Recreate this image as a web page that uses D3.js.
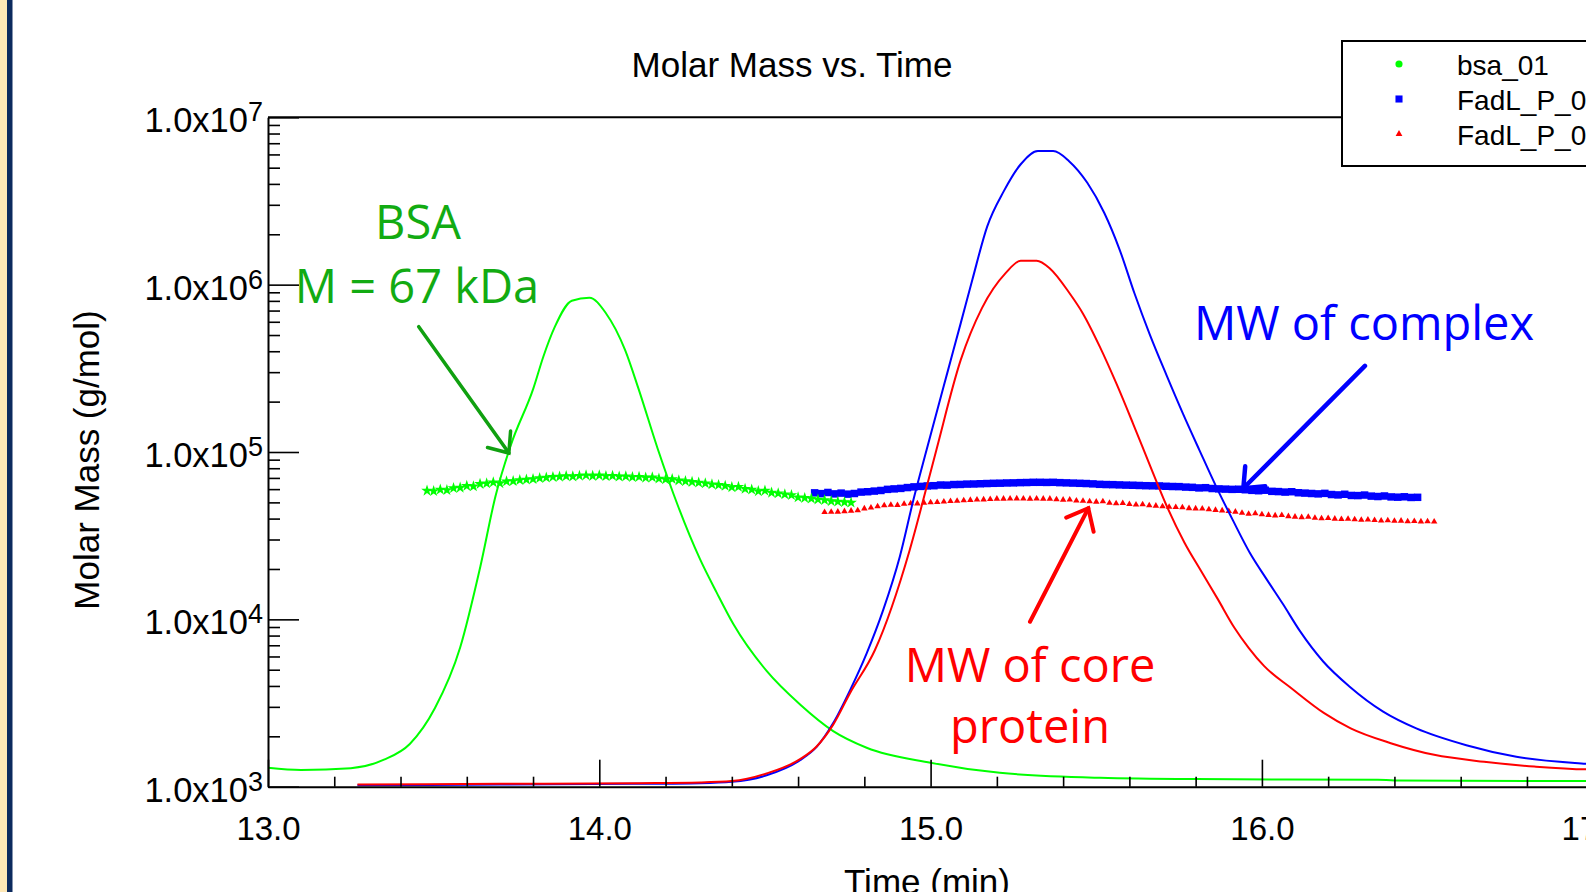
<!DOCTYPE html>
<html>
<head>
<meta charset="utf-8">
<script src="https://cdn.jsdelivr.net/npm/d3@7"></script>
<style>
body { margin: 0; background: #fff; overflow: hidden; }
svg { display: block; font-family: "Liberation Sans", Arial, sans-serif; }
</style>
</head>
<body>
<div id="chart"></div>
<script>
// ---- values ----
var seriesNames = ["bsa_01", "FadL_P_01", "FadL_P_02"];
var seriesColors = ["#00ff00", "#0000ff", "#ff0000"];

var timeTicks = [13, 14, 15, 16, 17];
var massTicks = [1e3, 1e4, 1e5, 1e6, 1e7];
var massTickExp = ["3", "4", "5", "6", "7"];

// detector traces (time in min, plotted on the molar mass axis)
var bsaTraceTime = [13.00, 13.10, 13.25, 13.35, 13.428, 13.504, 13.58, 13.641, 13.687, 13.733, 13.801, 13.831, 13.866, 13.917, 13.97, 14.02, 14.078, 14.118, 14.176, 14.237, 14.304, 14.354, 14.405, 14.505, 14.606, 14.706, 14.807, 15.0, 15.209, 15.511, 15.80, 16.35, 16.40, 17.0];
var bsaTraceValue = [1300, 1260, 1290, 1450, 1800, 2950, 6790, 20700, 54800, 110000, 240000, 371000, 561000, 802000, 836000, 675000, 406000, 240000, 105000, 47900, 22900, 14500, 9350, 4920, 3100, 2150, 1710, 1390, 1210, 1130, 1110, 1100, 1090, 1080];

var fadl1TraceTime = [13.27, 13.70, 14.10, 14.304, 14.40, 14.505, 14.606, 14.656, 14.706, 14.757, 14.807, 14.857, 14.907, 14.948, 14.988, 15.05, 15.091, 15.126, 15.171, 15.221, 15.272, 15.324, 15.37, 15.418, 15.473, 15.524, 15.571, 15.615, 15.662, 15.712, 15.762, 15.812, 15.863, 15.913, 15.963, 16.014, 16.064, 16.115, 16.185, 16.265, 16.366, 16.466, 16.617, 16.768, 16.978, 17.0];
var fadl1TraceValue = [1020, 1030, 1040, 1050, 1070, 1170, 1440, 1730, 2400, 3780, 6270, 11400, 23700, 51600, 103000, 295000, 589000, 1070000, 2230000, 3620000, 5240000, 6280000, 6280000, 5470000, 4060000, 2690000, 1610000, 891000, 501000, 288000, 169000, 102000, 61500, 38900, 25100, 17400, 12300, 8500, 5600, 3960, 2810, 2230, 1770, 1510, 1370, 1360];

var fadl2TraceTime = [13.27, 13.70, 14.12, 14.304, 14.40, 14.505, 14.606, 14.656, 14.706, 14.757, 14.832, 14.937, 14.988, 15.018, 15.091, 15.155, 15.227, 15.272, 15.32, 15.36, 15.42, 15.46, 15.511, 15.561, 15.611, 15.662, 15.712, 15.766, 15.816, 15.866, 15.917, 15.96, 16.007, 16.088, 16.188, 16.268, 16.389, 16.52, 16.671, 16.822, 16.99, 17.0];
var fadl2TraceValue = [1030, 1040, 1050, 1060, 1080, 1200, 1460, 1740, 2350, 3630, 6560, 26000, 61700, 104000, 355000, 724000, 1175000, 1390000, 1390000, 1250000, 885000, 671000, 425000, 256000, 148000, 83200, 47900, 28800, 19500, 13300, 8910, 6760, 5250, 3890, 2750, 2230, 1820, 1550, 1410, 1320, 1270, 1270];

// molar mass points (kDa), one every 0.02 min from the start time
var sliceStep = 0.02;
var bsaMassStart = 13.48;
var bsaMass = [58.7, 58.4, 59.6, 59.2, 60.8, 61.2, 62.7, 62.3, 64.4, 64.9, 65.8, 65.1, 66.8, 67.0, 67.9, 68.4, 68.9, 69.8, 70.3, 70.9, 71.2, 71.8, 71.4, 72.1, 72.6, 71.9, 72.4, 71.8, 72.0, 71.3, 71.5, 70.8, 71.0, 70.2, 70.5, 69.3, 68.6, 68.9, 67.6, 66.9, 66.2, 65.6, 65.0, 64.1, 63.5, 62.8, 61.6, 61.9, 60.2, 59.6, 58.3, 58.7, 57.1, 56.6, 55.8, 55.3, 53.6, 53.1, 52.7, 52.0, 51.6, 50.8, 50.5, 50.1, 49.8];
var fadl1MassStart = 14.65;
var fadl1Mass = [57.0, 56.4, 57.3, 56.2, 56.8, 56.0, 56.5, 57.6, 57.9, 58.4, 58.9, 59.8, 60.2, 60.6, 61.3, 61.9, 62.3, 62.7, 62.9, 63.5, 63.4, 63.9, 64.0, 64.3, 64.4, 64.6, 64.8, 65.0, 65.1, 65.3, 65.4, 65.6, 65.7, 65.9, 65.9, 65.8, 65.9, 65.6, 65.4, 65.2, 65.0, 64.8, 64.5, 64.1, 63.9, 63.8, 63.6, 63.4, 63.3, 63.1, 62.9, 62.8, 62.7, 62.4, 62.2, 62.1, 61.7, 61.5, 61.0, 61.2, 60.5, 60.2, 60.0, 59.8, 59.9, 59.5, 59.0, 58.7, 59.1, 58.2, 58.0, 57.6, 57.9, 57.1, 56.8, 56.5, 56.2, 56.6, 55.7, 55.4, 55.9, 55.0, 54.9, 55.3, 54.5, 54.2, 54.6, 53.9, 53.7, 54.0, 53.5, 53.6];
var fadl2MassStart = 14.68;
var fadl2Mass = [43.7, 43.8, 43.9, 44.2, 44.5, 44.8, 45.9, 46.5, 47.3, 47.9, 48.3, 48.1, 48.9, 49.3, 49.2, 49.7, 50.0, 50.1, 50.5, 50.8, 51.0, 51.4, 51.6, 51.9, 52.0, 52.2, 52.5, 52.5, 52.6, 52.7, 52.6, 52.5, 52.6, 52.5, 52.5, 52.1, 51.8, 51.9, 51.2, 51.0, 50.6, 50.4, 50.7, 49.6, 49.3, 49.5, 48.8, 48.4, 48.6, 47.9, 47.7, 47.3, 47.0, 46.8, 46.6, 46.1, 45.9, 45.8, 45.4, 45.0, 44.7, 44.3, 43.9, 43.2, 42.7, 42.9, 42.4, 42.0, 41.7, 41.9, 41.3, 41.0, 40.7, 40.9, 40.4, 40.1, 40.2, 39.9, 39.7, 39.8, 39.5, 39.3, 39.4, 39.1, 38.9, 39.0, 38.7, 38.8, 38.5, 38.6, 38.4, 38.5, 38.3];

// annotation arrows: [tailTime, tailMass, tipTime, tipMass]
var bsaArrow = [13.455, 561000, 13.727, 98600];
var complexArrow = [16.311, 327000, 15.944, 60700];
var coreArrow = [15.300, 9680, 15.476, 46100];

function zipTrace(times, values) {
    return times.map(function(t, i) { return [t, values[i]]; });
}
function slices(start, kda) {
    return kda.map(function(m, i) { return [start + i * sliceStep, m * 1000]; });
}

var W = 1586, H = 892;
var svg = d3.select("#chart").append("svg")
    .attr("width", W)
    .attr("height", H);

svg.append("rect").attr("width", W).attr("height", H).attr("fill", "#fff");

// slide border on the left
svg.append("rect").attr("x", 0).attr("y", 0).attr("width", 7).attr("height", H).attr("fill", "#fee8b6");
svg.append("rect").attr("x", 7).attr("y", 0).attr("width", 5.5).attr("height", H).attr("fill", "#0c2a5e");

var x = d3.scaleLinear().domain([13, 17]).range([268, 1593.2]);
var y = d3.scaleLog().domain([1e3, 1e7]).range([786.7, 117.3]);

svg.append("clipPath").attr("id", "plotclip")
  .append("rect")
    .attr("x", x(13)).attr("y", y(1e7))
    .attr("width", x(17) - x(13)).attr("height", y(1e3) - y(1e7));

var plot = svg.append("g").attr("clip-path", "url(#plotclip)");

// molar mass slices (markers)
var massSeries = [
    { data: slices(fadl1MassStart, fadl1Mass), color: seriesColors[1], symbol: d3.symbolSquare, size: 56 },
    { data: slices(fadl2MassStart, fadl2Mass), color: seriesColors[2], symbol: d3.symbolTriangle, size: 18 },
    { data: slices(bsaMassStart, bsaMass), color: seriesColors[0], symbol: d3.symbolStar, size: 42 }
];
massSeries.forEach(function(s) {
    plot.append("g")
        .selectAll("path")
        .data(s.data)
        .enter()
        .append("path")
            .attr("d", d3.symbol().type(s.symbol).size(s.size))
            .attr("transform", function(d) { return "translate(" + x(d[0]) + "," + y(d[1]) + ")"; })
            .attr("fill", s.color);
});

// detector traces
var line = d3.line()
    .curve(d3.curveMonotoneX)
    .x(function(d) { return x(d[0]); })
    .y(function(d) { return y(d[1]); });

[zipTrace(bsaTraceTime, bsaTraceValue),
 zipTrace(fadl1TraceTime, fadl1TraceValue),
 zipTrace(fadl2TraceTime, fadl2TraceValue)].forEach(function(tr, i) {
    plot.append("path")
        .datum(tr)
        .attr("d", line)
        .attr("fill", "none")
        .attr("stroke", seriesColors[i])
        .attr("stroke-width", 2)
        .attr("stroke-linejoin", "round");
});

// frame
svg.append("path")
    .attr("d", "M" + x(13) + "," + y(1e7) + "H" + x(17))
    .attr("stroke", "#000").attr("stroke-width", 2);

// x axis
var xMinor = d3.range(13, 17.001, 0.2).filter(function(v) { return Math.abs(v - Math.round(v)) > 0.01; });
var xAxisG = svg.append("g").attr("transform", "translate(0," + y(1e3) + ")");
xAxisG.append("g")
    .call(d3.axisBottom(x).tickValues(xMinor).tickSize(-10).tickSizeOuter(0).tickFormat(""))
    .call(function(g) { g.select(".domain").remove(); });
xAxisG.append("g")
    .call(d3.axisBottom(x).tickValues(timeTicks).tickSize(-27).tickSizeOuter(0).tickPadding(30).tickFormat(d3.format(".1f")))
    .call(function(g) {
        g.select(".domain").attr("stroke-width", 2);
        g.selectAll("text").attr("font-size", 33).attr("font-family", "Liberation Sans, Arial, sans-serif").attr("fill", "#000");
    });
xAxisG.selectAll("line").attr("stroke", "#000").attr("stroke-width", 1.6);

// y axis
var yMinor = [];
[1e3, 1e4, 1e5, 1e6].forEach(function(d) {
    for (var k = 2; k <= 9; k++) yMinor.push(k * d);
});
var yAxisG = svg.append("g").attr("transform", "translate(" + x(13) + ",0)");
yAxisG.append("g")
    .call(d3.axisLeft(y).tickValues(yMinor).tickSize(-12).tickSizeOuter(0).tickFormat(""))
    .call(function(g) { g.select(".domain").remove(); });
yAxisG.append("g")
    .call(d3.axisLeft(y).tickValues(massTicks).tickSize(-31).tickSizeOuter(0).tickFormat(""))
    .call(function(g) { g.select(".domain").attr("stroke-width", 2); });
yAxisG.selectAll("line").attr("stroke", "#000").attr("stroke-width", 1.6);

var yLab = svg.append("g")
    .selectAll("text")
    .data(massTicks)
    .enter()
    .append("text")
        .attr("x", 263)
        .attr("y", function(d) { return y(d) + 15; })
        .attr("text-anchor", "end")
        .attr("fill", "#000");
yLab.append("tspan").attr("font-size", 34.5).text("1.0x10");
yLab.append("tspan").attr("font-size", 27).attr("dy", -11).text(function(d, i) { return massTickExp[i]; });

// titles
svg.append("text")
    .attr("x", 792).attr("y", 77)
    .attr("text-anchor", "middle")
    .attr("font-size", 35)
    .text("Molar Mass vs. Time");

svg.append("text")
    .attr("x", 927).attr("y", 894)
    .attr("text-anchor", "middle")
    .attr("font-size", 35)
    .text("Time (min)");

svg.append("text")
    .attr("transform", "translate(99,460) rotate(-90)")
    .attr("text-anchor", "middle")
    .attr("font-size", 35)
    .text("Molar Mass (g/mol)");

// legend
var legend = svg.append("g");
legend.append("rect")
    .attr("x", 1342).attr("y", 41)
    .attr("width", 300).attr("height", 125)
    .attr("fill", "#fff").attr("stroke", "#000").attr("stroke-width", 2);
var legSymbols = [d3.symbolCircle, d3.symbolSquare, d3.symbolTriangle];
var legSizes = [40, 50, 20];
var legRowY = [64, 99, 134];
seriesNames.forEach(function(name, i) {
    legend.append("path")
        .attr("d", d3.symbol().type(legSymbols[i]).size(legSizes[i]))
        .attr("transform", "translate(1399," + legRowY[i] + ")")
        .attr("fill", seriesColors[i]);
    legend.append("text")
        .attr("x", 1457).attr("y", legRowY[i] + 11)
        .attr("font-size", 28)
        .text(name);
});

// annotations
function arrow(a, color, width, headLen) {
    var x1 = x(a[0]), y1 = y(a[1]), x2 = x(a[2]), y2 = y(a[3]);
    var ang = Math.atan2(y1 - y2, x1 - x2), spread = Math.PI / 4.5;
    var g = svg.append("g").attr("stroke", color).attr("stroke-width", width)
        .attr("stroke-linecap", "round").attr("fill", "none");
    g.append("line").attr("x1", x1).attr("y1", y1).attr("x2", x2).attr("y2", y2);
    g.append("path").attr("stroke-linejoin", "miter")
        .attr("d", "M" + (x2 + headLen * Math.cos(ang + spread)) + "," + (y2 + headLen * Math.sin(ang + spread)) +
                   "L" + x2 + "," + y2 +
                   "L" + (x2 + headLen * Math.cos(ang - spread)) + "," + (y2 + headLen * Math.sin(ang - spread)));
}
arrow(bsaArrow, "#10a010", 3.5, 22);
arrow(complexArrow, "#0000ff", 4.5, 22);
arrow(coreArrow, "#ff0000", 4, 24);

var notes = [
    { text: "BSA", x: 418, y: 239, color: "#12ab12" },
    { text: "M = 67 kDa", x: 417, y: 303, color: "#12ab12" },
    { text: "MW of complex", x: 1364, y: 340, color: "#0000ff" },
    { text: "MW of core", x: 1030, y: 682, color: "#ff0000" },
    { text: "protein", x: 1030, y: 743, color: "#ff0000" }
];
svg.append("g")
    .selectAll("text")
    .data(notes)
    .enter()
    .append("text")
        .attr("x", function(d) { return d.x; })
        .attr("y", function(d) { return d.y; })
        .attr("text-anchor", "middle")
        .attr("font-family", "'Open Sans', Lato, sans-serif")
        .attr("font-size", 47)
        .attr("fill", function(d) { return d.color; })
        .text(function(d) { return d.text; });
</script>
</body>
</html>
